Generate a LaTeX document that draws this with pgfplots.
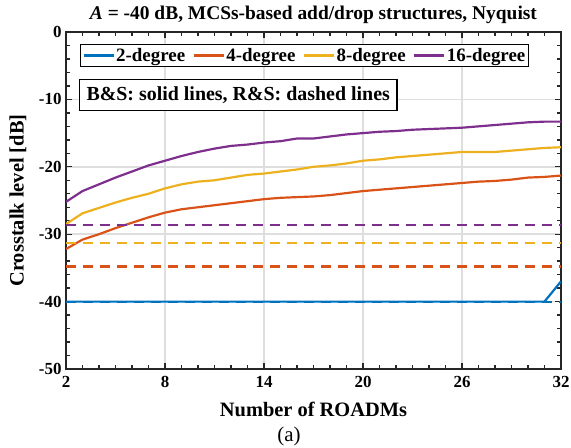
\documentclass[border=0pt]{standalone}
\usepackage{fontspec}
\setmainfont{Liberation Serif}
\usepackage{pgfplots}
\pgfplotsset{compat=1.18}
\definecolor{mblue}{rgb}{0,0.447,0.741}
\definecolor{morange}{rgb}{0.85,0.325,0.098}
\definecolor{myellow}{rgb}{0.929,0.694,0.125}
\definecolor{mpurple}{rgb}{0.494,0.184,0.556}
\pgfplotstableread{
x blue orange yellow purple
2 -40 -32.2 -28.5 -25.2
3 -40 -30.8 -26.9 -23.6
4 -40 -30.0 -26.1 -22.6
5 -40 -29.1 -25.3 -21.6
6 -40 -28.3 -24.6 -20.7
7 -40 -27.5 -24.0 -19.8
8 -40 -26.8 -23.2 -19.1
9 -40 -26.3 -22.6 -18.4
10 -40 -26.0 -22.2 -17.8
11 -40 -25.7 -22.0 -17.3
12 -40 -25.4 -21.6 -16.9
13 -40 -25.1 -21.2 -16.7
14 -40 -24.8 -21.0 -16.4
15 -40 -24.6 -20.7 -16.2
16 -40 -24.5 -20.4 -15.8
17 -40 -24.4 -20.0 -15.8
18 -40 -24.2 -19.8 -15.5
19 -40 -23.9 -19.5 -15.2
20 -40 -23.6 -19.1 -15.0
21 -40 -23.4 -18.9 -14.8
22 -40 -23.2 -18.6 -14.7
23 -40 -23.0 -18.4 -14.5
24 -40 -22.8 -18.2 -14.4
25 -40 -22.6 -18.0 -14.3
26 -40 -22.4 -17.8 -14.2
27 -40 -22.2 -17.8 -14.0
28 -40 -22.1 -17.8 -13.8
29 -40 -21.9 -17.6 -13.6
30 -40 -21.6 -17.4 -13.4
31 -40 -21.5 -17.2 -13.3
32 -37 -21.3 -17.1 -13.3
}\solid
\pgfplotstableread{
x blue orange yellow purple
2 -40 -34.8 -31.3 -28.6
32 -40 -34.8 -31.3 -28.6
}\dashed
\begin{document}
\begin{tikzpicture}
\path[use as bounding box] (0,0) rectangle (571bp,448bp);
\begin{axis}[
  at={(66bp,79bp)}, anchor=south west,
  scale only axis, width=495bp, height=337bp,
  xmin=2, xmax=32, ymin=-50, ymax=0,
  xtick={2,8,...,32}, ytick={-50,-40,...,0},
  minor x tick num=5, minor y tick num=4,
  grid=major, major grid style={black!13, line width=1.5pt},
  axis line style={line width=1.6pt, black!85},
  tick style={black!85, line width=1.4pt},
  major tick length=6bp, minor tick length=4bp,
  tick align=inside,
  /pgf/number format/assume math mode=true,
  ticklabel style={font=\fontsize{17}{17}\selectfont\bfseries},
  yticklabel style={xshift=-1bp},
  xticklabel style={yshift=-4bp},
  xlabel={Number of ROADMs}, ylabel={Crosstalk level [dB]},
  label style={font=\fontsize{20.5}{20.5}\selectfont\bfseries},
  xlabel style={at={(axis description cs:0.5,-0.119)}, anchor=center},
  ylabel style={at={(axis description cs:-0.097,0.5)}, anchor=center},
  title={\textit{A} = -40 dB, MCSs-based add/drop structures, Nyquist},
  title style={font=\fontsize{19.5}{19.5}\selectfont\bfseries,
    at={(axis description cs:0.5,1.018)}, anchor=base},
  legend columns=4,
  legend style={at={(rel axis cs:0.028,0.964)}, anchor=north west,
    draw=black, line width=1.3pt, font=\fontsize{19}{19}\selectfont\bfseries,
    inner sep=2bp, nodes={inner sep=1.5bp},
    /tikz/every even column/.append style={column sep=6bp}},
  legend image code/.code={\draw[#1] (0bp,0bp) -- (30bp,0bp);},
]
\addplot[mblue, line width=2.2pt] table[x=x,y=blue] {\solid};
\addlegendentry{2-degree}
\addplot[morange, line width=2.2pt] table[x=x,y=orange] {\solid};
\addlegendentry{4-degree}
\addplot[myellow, line width=2.2pt] table[x=x,y=yellow] {\solid};
\addlegendentry{8-degree}
\addplot[mpurple, line width=2.2pt] table[x=x,y=purple] {\solid};
\addlegendentry{16-degree}
\addplot[mblue, line width=2.2pt, dash pattern=on 10bp off 7bp, forget plot] table[x=x,y=blue] {\dashed};
\addplot[morange, line width=2.2pt, dash pattern=on 10bp off 7bp, forget plot] table[x=x,y=orange] {\dashed};
\addplot[myellow, line width=2.2pt, dash pattern=on 10bp off 7bp, forget plot] table[x=x,y=yellow] {\dashed};
\addplot[mpurple, line width=2.2pt, dash pattern=on 10bp off 7bp, forget plot] table[x=x,y=purple] {\dashed};
\node[draw=black, line width=1.3pt, fill=white, anchor=north west, inner xsep=7bp, inner ysep=7bp,
  font=\fontsize{20}{20}\selectfont\bfseries] at (rel axis cs:0.026,0.861)
  {B\&S: solid lines, R\&S: dashed lines};
\end{axis}
\node[font=\fontsize{21}{21}\selectfont] at (289bp,12bp) {(a)};
\end{tikzpicture}
\end{document}
